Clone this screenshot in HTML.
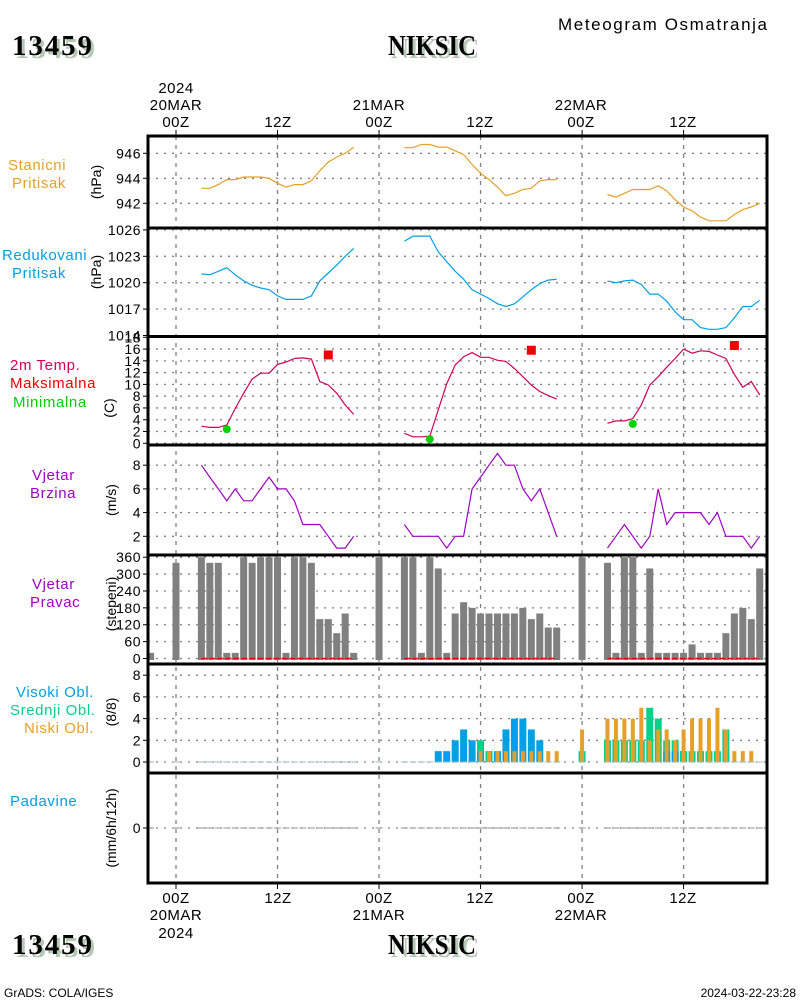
<!DOCTYPE html>
<html><head><meta charset="utf-8"><style>
html,body{margin:0;padding:0;background:#fff;}
svg{display:block;font-family:"Liberation Sans",sans-serif;}
.t{font-size:14px;}
.title{font-family:"Liberation Serif",serif;font-weight:bold;font-size:29px;}
</style></head><body>
<svg id="chart" width="800" height="1000" viewBox="0 0 800 1000" xmlns="http://www.w3.org/2000/svg">
<rect x="0" y="0" width="800" height="1000" fill="#fff"/>
<g id="grid"></g>
<g id="marks"></g>
<g id="frame"></g>
<g id="labels"></g>
</svg>
<script>
// ---- data ----
const day1Hours = [3,4,5,6,7,8,9,10,11,12,13,14,15,16,17,18,19,20,21];
const day2Hours = [27,28,29,30,31,32,33,34,35,36,37,38,39,40,41,42,43,44,45];
const day3Hours = [51,52,53,54,55,56,57,58,59,60,61,62,63,64,65,66,67,68,69];

const stationP1 = [943.2,943.2,943.5,943.9,943.9,944.1,944.1,944.1,944.0,943.6,943.3,943.5,943.5,943.8,944.6,945.3,945.7,946.0,946.5];
const stationP2 = [946.45,946.45,946.7,946.7,946.5,946.5,946.2,945.9,945.1,944.4,943.9,943.3,942.6,942.8,943.1,943.2,943.8,943.9,943.9];
const stationP3 = [942.7,942.5,942.8,943.1,943.1,943.1,943.4,943.0,942.3,941.7,941.4,940.9,940.6,940.6,940.6,941.1,941.5,941.7,942.0];

const reducedP1 = [1021.0,1020.9,1021.3,1021.7,1020.9,1020.2,1019.7,1019.4,1019.2,1018.5,1018.1,1018.1,1018.1,1018.5,1020.2,1021.1,1022.0,1023.0,1023.9];
const reducedP2 = [1024.7,1025.3,1025.3,1025.3,1023.5,1022.4,1021.3,1020.4,1019.2,1018.7,1018.2,1017.6,1017.3,1017.6,1018.4,1019.2,1019.9,1020.3,1020.4];
const reducedP3 = [1020.2,1020.0,1020.2,1020.3,1019.8,1018.7,1018.7,1017.9,1016.7,1015.8,1015.8,1014.9,1014.7,1014.7,1014.9,1016.0,1017.3,1017.3,1018.0];

const temp1 = [2.9,2.7,2.7,3.1,5.9,8.5,10.9,11.9,11.9,13.4,13.8,14.4,14.5,14.3,10.5,9.9,8.5,6.5,4.9];
const temp2 = [1.7,1.1,1.1,1.2,5.7,10.1,13.3,14.7,15.4,14.6,14.6,14.1,13.9,12.7,11.3,9.9,8.8,8.1,7.5];
const temp3 = [3.4,3.8,3.8,4.2,6.5,9.9,11.3,12.9,14.4,16.0,15.3,15.7,15.6,15.0,14.4,11.7,9.5,10.5,8.2];

const maxHours = [18,42,66];
const maxTemps = [15.0,15.8,16.6];
const minHours = [6,30,54];
const minTemps = [2.4,0.7,3.3];

const wind1 = [8,7,6,5,6,5,5,6,7,6,6,5,3,3,3,2,1,1,2];
const wind2 = [3,2,2,2,2,1,2,2,6,7,8,9,8,8,6,5,6,4,2];
const wind3 = [1,2,3,2,1,2,6,3,4,4,4,4,3,4,2,2,2,1,2];

const obsHours = [-3,0,3,4,5,6,7,8,9,10,11,12,13,14,15,16,17,18,19,20,21,24,27,28,29,30,31,32,33,34,35,36,37,38,39,40,41,42,43,44,45,48,51,52,53,54,55,56,57,58,59,60,61,62,63,64,65,66,67,68,69];
const windDir = [20,340,360,340,340,20,20,360,340,360,360,360,20,360,360,340,140,140,90,160,20,360,360,360,20,360,320,20,160,200,180,160,160,160,160,160,180,140,160,110,110,360,340,20,360,360,20,320,20,20,20,20,50,20,20,20,90,160,180,140,320];
const highCloud = [0,0, 0,0,0,0,0,0,0,0,0,0,0,0,0,0,0,0,0,0,0, 0, 0,0,0,0,1,1,2,3,2,1,1,1,3,4,4,3,2,0,0, 0, 0,0,0,0,0,0,0,1,1,1,0,0,0,0,0,0,0,0,0];
const midCloud  = [0,0, 0,0,0,0,0,0,0,0,0,0,0,0,0,0,0,0,0,0,0, 0, 0,0,0,0,0,0,0,0,0,2,1,0,0,0,0,0,0,0,0, 1, 2,2,2,2,2,5,4,2,2,1,1,1,1,1,3,0,0,0,0];
const lowCloud  = [0,0, 0,0,0,0,0,0,0,0,0,0,0,0,0,0,0,0,0,0,0, 0, 0,0,0,0,0,0,0,0,0,1,1,1,1,1,1,1,1,1,1, 3, 4,4,4,4,5,2,3,3,2,3,4,4,4,5,3,1,1,1,0];

const stationTicks = [942,944,946];
const reducedTicks = [1014,1017,1020,1023,1026];
const tempTicks = [0,2,4,6,8,10,12,14,16,18];
const windTicks = [2,4,6,8];
const dirTicks = [0,60,120,180,240,300,360];
const cloudTicks = [0,2,4,6,8];
const precipTicks = [0];

// ---- axes ----
const NS = "http://www.w3.org/2000/svg";
const X0 = 148, X1 = 767;
function xh(h){ return 176 + h*8.46; }
const yStation = v => 153.3 + (946 - v)*12.5;
const yReduced = v => 282.7 + (1020 - v)*8.8;
const yTemp = v => 443.3 - v*5.89;
const yWind = v => 560 - v*11.85;
const yDir = v => 658.5 - v/360*101.3;
const yCloud = v => 762 - v*10.85;
const yPrecip = v => 828 - v*10;

const gGrid = document.getElementById('grid');
const gMarks = document.getElementById('marks');
const gFrame = document.getElementById('frame');
const gLab = document.getElementById('labels');

function el(tag, attrs, parent){
  const e = document.createElementNS(NS, tag);
  for (const k in attrs) e.setAttribute(k, attrs[k]);
  parent.appendChild(e);
  return e;
}
function txt(s, x, y, attrs, parent){
  const e = el('text', Object.assign({x:x, y:y}, attrs), parent);
  e.textContent = s;
  return e;
}

function yAxis(ticks, yf, name, top, bot){
  ticks.forEach(v => {
    const y = yf(v);
    if (y > top + 1 && y < bot - 1) {
      const g = el('line', {x1:X0, x2:X1, y1:y, y2:y, stroke:'#808080', 'stroke-width':1.3, 'stroke-dasharray':'2,6'}, gGrid);
      
      
    }
    const tk = el('line', {x1:X0-5, x2:X0, y1:y, y2:y, stroke:'#000', 'stroke-width':1}, gFrame);
    
    
    const t = txt(String(v), 141, y+5, {'text-anchor':'end', class:'t', fill:'#000', 'letter-spacing':'0.5'}, gLab);
    
    
  });
}
yAxis(stationTicks, yStation, 'station-pressure-axis', 136, 228);
yAxis(reducedTicks, yReduced, 'reduced-pressure-axis', 228, 336);
yAxis(tempTicks, yTemp, 'temperature-axis', 336, 445);
yAxis(windTicks, yWind, 'wind-speed-axis', 445, 555);
yAxis(dirTicks, yDir, 'wind-direction-axis', 555, 664);
yAxis(cloudTicks, yCloud, 'cloud-axis', 664, 773);
yAxis(precipTicks, yPrecip, 'precip-axis', 773, 883);

[0,12,24,36,48,60].forEach(h => {
  const x = xh(h);
  const v = el('line', {x1:x, x2:x, y1:136, y2:883, stroke:'#808080', 'stroke-width':1.3, 'stroke-dasharray':'4,5'}, gGrid);
  
  
  el('line', {x1:x, x2:x, y1:130, y2:136, stroke:'#000'}, gFrame);
  el('line', {x1:x, x2:x, y1:883, y2:889, stroke:'#000'}, gFrame);
});

function series(hours, vals, yf, color, name){
  let d = '';
  hours.forEach((h,i) => { d += (i ? 'L' : 'M') + xh(h).toFixed(1) + ' ' + yf(vals[i]).toFixed(1); });
  const p = el('path', {d:d, fill:'none', stroke:color, 'stroke-width':1.2}, gMarks);
  
  
}
const ORANGE = '#e6a028', BLUE = '#00a0e6', MAG = '#d2005a', PURP = '#a000c8', GREEN = '#00d28c';
series(day1Hours, stationP1, yStation, ORANGE, 'station-pressure-day1');
series(day2Hours, stationP2, yStation, ORANGE, 'station-pressure-day2');
series(day3Hours, stationP3, yStation, ORANGE, 'station-pressure-day3');
series(day1Hours, reducedP1, yReduced, BLUE, 'reduced-pressure-day1');
series(day2Hours, reducedP2, yReduced, BLUE, 'reduced-pressure-day2');
series(day3Hours, reducedP3, yReduced, BLUE, 'reduced-pressure-day3');
series(day1Hours, temp1, yTemp, MAG, 'temperature-day1');
series(day2Hours, temp2, yTemp, MAG, 'temperature-day2');
series(day3Hours, temp3, yTemp, MAG, 'temperature-day3');
series(day1Hours, wind1, yWind, PURP, 'wind-speed-day1');
series(day2Hours, wind2, yWind, PURP, 'wind-speed-day2');
series(day3Hours, wind3, yWind, PURP, 'wind-speed-day3');

maxHours.forEach((h,i) => {
  const r = el('rect', {x:xh(h)-4.5, y:yTemp(maxTemps[i])-4.5, width:9, height:9, fill:'#f00000'}, gMarks);
  
  
});
minHours.forEach((h,i) => {
  const c = el('circle', {cx:xh(h), cy:yTemp(minTemps[i]), r:4, fill:'#00d200'}, gMarks);
  
  
});

obsHours.forEach((h,i) => {
  const x = xh(h), y = yDir(windDir[i]);
  const b = el('rect', {x:x-3.5, y:y, width:7, height:yDir(0)+1.5-y, fill:'#808080'}, gMarks);
  
  
});
[day1Hours, day2Hours, day3Hours].forEach(hs => {
  const l = el('line', {x1:xh(hs[0]), x2:xh(hs[hs.length-1]), y1:yDir(0), y2:yDir(0), stroke:'#f00000', 'stroke-width':1.5, 'stroke-dasharray':'6,2'}, gMarks);
  
  
});

obsHours.forEach((h,i) => {
  const x = xh(h), base = yCloud(0);
  const wide = [[highCloud[i], BLUE, 'high-cloud-bar'], [midCloud[i], GREEN, 'mid-cloud-bar']].sort((a,b)=>b[0]-a[0]);
  wide.forEach(([v,c,n]) => {
    if (v > 0) {
      const r = el('rect', {x:x-3.5, y:yCloud(v), width:7, height:base-yCloud(v), fill:c}, gMarks);
      
      
    }
  });
  if (lowCloud[i] > 0) {
    const r = el('rect', {x:x-2, y:yCloud(lowCloud[i]), width:4, height:base-yCloud(lowCloud[i]), fill:ORANGE}, gMarks);
    
    
  }
  const z = el('line', {x1:x-3.5, x2:x+3.5, y1:base, y2:base, stroke:'#9ab8c0', 'stroke-width':1}, gMarks);
  
  
  const p = el('line', {x1:x-3.5, x2:x+3.5, y1:yPrecip(0), y2:yPrecip(0), stroke:'#909090', 'stroke-width':1}, gMarks);
  
  
});

[136,228,336.5,445,555,664,773,883].forEach(y => {
  el('line', {x1:X0-1.5, x2:X1+1.5, y1:y, y2:y, stroke:'#000', 'stroke-width':3}, gFrame);
});
el('line', {x1:X0, x2:X0, y1:136, y2:883, stroke:'#000', 'stroke-width':3}, gFrame);
el('line', {x1:X1, x2:X1, y1:136, y2:883, stroke:'#000', 'stroke-width':3}, gFrame);
</script>

<svg style="position:absolute;left:0;top:0" width="800" height="1000" xmlns="http://www.w3.org/2000/svg">
<g font-family="Liberation Sans, sans-serif" font-size="15">
  <text x="558" y="30" font-size="17" textLength="209" lengthAdjust="spacing">Meteogram Osmatranja</text>
  <g>
    <text class="title" x="15" y="58" fill="#b4c8b4" textLength="80">13459</text>
    <text class="title" x="12" y="55" fill="#000" textLength="80">13459</text>
  </g>
  <g>
    <text class="title" x="391" y="58" fill="#b4c8b4" textLength="88" lengthAdjust="spacingAndGlyphs">NIKSIC</text>
    <text class="title" x="388" y="55" fill="#000" textLength="88" lengthAdjust="spacingAndGlyphs">NIKSIC</text>
  </g>
  <g>
    <text class="title" x="15" y="957" fill="#b4c8b4" textLength="80">13459</text>
    <text class="title" x="12" y="954" fill="#000" textLength="80">13459</text>
  </g>
  <g>
    <text class="title" x="391" y="957" fill="#b4c8b4" textLength="88" lengthAdjust="spacingAndGlyphs">NIKSIC</text>
    <text class="title" x="388" y="954" fill="#000" textLength="88" lengthAdjust="spacingAndGlyphs">NIKSIC</text>
  </g>
  <g text-anchor="middle" font-size="15" letter-spacing="0.5">
    <text x="176" y="93">2024</text><text x="176" y="110">20MAR</text><text x="176" y="127">00Z</text>
    <text x="278" y="127">12Z</text>
    <text x="379" y="110">21MAR</text><text x="379" y="127">00Z</text>
    <text x="480" y="127">12Z</text>
    <text x="581" y="110">22MAR</text><text x="581" y="127">00Z</text>
    <text x="683" y="127">12Z</text>
  </g>
  <g text-anchor="middle" font-size="15" letter-spacing="0.5">
    <text x="176" y="903">00Z</text><text x="176" y="920">20MAR</text><text x="176" y="938">2024</text>
    <text x="278" y="903">12Z</text>
    <text x="379" y="903">00Z</text><text x="379" y="920">21MAR</text>
    <text x="480" y="903">12Z</text>
    <text x="581" y="903">00Z</text><text x="581" y="920">22MAR</text>
    <text x="683" y="903">12Z</text>
  </g>
  <g letter-spacing="0.6">
    <text x="8" y="170" fill="#e6a028">Stanicni</text>
    <text x="12" y="188" fill="#e6a028">Pritisak</text>
    <text x="2" y="260" fill="#00a0e6">Redukovani</text>
    <text x="12" y="278" fill="#00a0e6">Pritisak</text>
    <text x="10" y="370" fill="#d2005a">2m Temp.</text>
    <text x="10" y="388" fill="#f00000">Maksimalna</text>
    <text x="13" y="407" fill="#00d200">Minimalna</text>
    <text x="32" y="480" fill="#a000c8">Vjetar</text>
    <text x="30" y="498" fill="#a000c8">Brzina</text>
    <text x="32" y="589" fill="#a000c8">Vjetar</text>
    <text x="30" y="607" fill="#a000c8">Pravac</text>
    <text x="16" y="697" fill="#00a0e6">Visoki Obl.</text>
    <text x="10" y="715" fill="#00d28c">Srednji Obl.</text>
    <text x="24" y="733" fill="#e6a028">Niski Obl.</text>
    <text x="10" y="806" fill="#00a0e6">Padavine</text>
  </g>
  <g text-anchor="middle" font-size="14">
    <text transform="translate(101,182) rotate(-90)">(hPa)</text>
    <text transform="translate(101,272) rotate(-90)">(hPa)</text>
    <text transform="translate(114,408) rotate(-90)">(C)</text>
    <text transform="translate(116,500) rotate(-90)">(m/s)</text>
    <text transform="translate(116,604) rotate(-90)">(stepeni)</text>
    <text transform="translate(116,712) rotate(-90)">(8/8)</text>
    <text transform="translate(116,828) rotate(-90)">(mm/6h/12h)</text>
  </g>
  <text x="4" y="997" font-size="12">GrADS: COLA/IGES</text>
  <text x="796" y="997" font-size="12" text-anchor="end">2024-03-22-23:28</text>
</g>
</svg>
</body></html>
